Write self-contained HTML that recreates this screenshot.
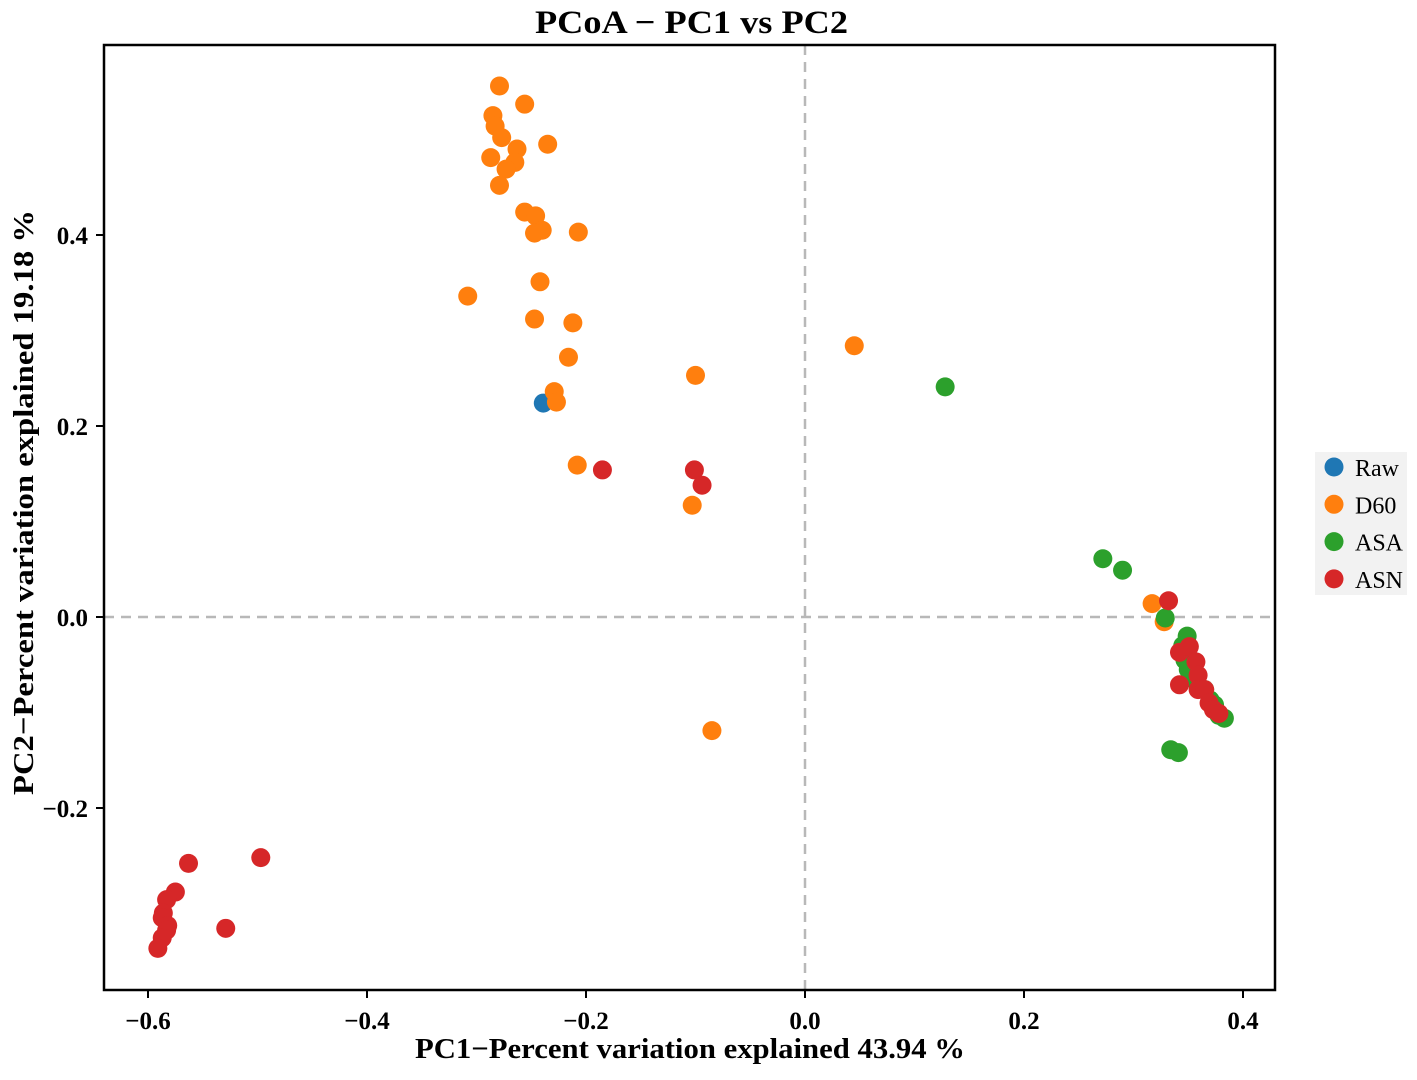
<!DOCTYPE html>
<html><head><meta charset="utf-8"><style>
body{margin:0;background:#fff;}
svg text{font-family:"Liberation Serif",serif;font-weight:bold;}
</style></head><body>
<svg id="chart" width="1417" height="1075" xmlns="http://www.w3.org/2000/svg">
<text x="535" y="33" font-size="33" textLength="313" lengthAdjust="spacingAndGlyphs">PCoA − PC1 vs PC2</text>
<g id="grid"></g>
<g id="pts"></g>
<rect x="104" y="45" width="1171" height="945" fill="none" stroke="#000" stroke-width="2.5"/>
<g id="axes"></g>
<text x="415" y="1058" font-size="29" textLength="550" lengthAdjust="spacingAndGlyphs">PC1−Percent variation explained 43.94 %</text>
<text transform="translate(33,795) rotate(-90)" font-size="29" textLength="585" lengthAdjust="spacingAndGlyphs">PC2−Percent variation explained 19.18 %</text>
<g id="legend">
<rect x="1315" y="452" width="92" height="143" fill="#f2f2f2"/>
</g>
</svg>
<script>
const xTicks=[-0.6,-0.4,-0.2,0.0,0.2,0.4];
const xTickLabels=["−0.6","−0.4","−0.2","0.0","0.2","0.4"];
const yTicks=[-0.2,0.0,0.2,0.4];
const yTickLabels=["−0.2","0.0","0.2","0.4"];
const groups=["Raw","D60","ASA","ASN"];
const colors=["#1f77b4","#ff7f0e","#2ca02c","#d62728"];
const rawX=[-0.239];
const rawY=[0.224];
const d60X=[-0.279,-0.256,-0.285,-0.283,-0.277,-0.235,-0.263,-0.287,-0.265,-0.273,-0.279,-0.256,-0.246,-0.240,-0.247,-0.207,-0.242,-0.308,-0.247,-0.212,-0.216,-0.229,-0.227,-0.100,0.045,-0.208,-0.103,-0.085,0.317,0.328];
const d60Y=[0.556,0.537,0.525,0.514,0.502,0.495,0.490,0.481,0.476,0.469,0.452,0.424,0.420,0.405,0.402,0.403,0.351,0.336,0.312,0.308,0.272,0.236,0.225,0.253,0.284,0.159,0.117,-0.119,0.014,-0.005];
const asaX=[0.128,0.272,0.290,0.329,0.349,0.345,0.347,0.350,0.356,0.365,0.370,0.374,0.378,0.383,0.334,0.341];
const asaY=[0.241,0.061,0.049,-0.001,-0.020,-0.030,-0.045,-0.055,-0.066,-0.076,-0.087,-0.092,-0.103,-0.106,-0.139,-0.142];
const asnX=[0.332,0.342,0.351,0.357,0.359,0.342,0.359,0.365,0.369,0.373,0.378,-0.185,-0.101,-0.094,-0.563,-0.497,-0.529,-0.575,-0.583,-0.586,-0.587,-0.582,-0.583,-0.587,-0.591];
const asnY=[0.017,-0.037,-0.031,-0.047,-0.061,-0.071,-0.076,-0.076,-0.090,-0.097,-0.101,0.154,0.154,0.138,-0.258,-0.252,-0.326,-0.288,-0.296,-0.310,-0.315,-0.323,-0.328,-0.336,-0.347];
const NS="http://www.w3.org/2000/svg";
const sx=v=>805+v*1095, sy=v=>617-v*955;
function mk(tag,attrs,parent){const e=document.createElementNS(NS,tag);for(const k in attrs)e.setAttribute(k,attrs[k]);parent.appendChild(e);return e;}
const grid=document.getElementById('grid'),pts=document.getElementById('pts'),axes=document.getElementById('axes'),leg=document.getElementById('legend');
let l=mk('line',{x1:sx(0),x2:sx(0),y1:45,y2:990,stroke:'#b8b8b8','stroke-width':2.5,'stroke-dasharray':'10,7'},grid);

l=mk('line',{x1:104,x2:1275,y1:sy(0),y2:sy(0),stroke:'#b8b8b8','stroke-width':2.5,'stroke-dasharray':'10,7'},grid);

xTicks.forEach((v,i)=>{
 const t=mk('line',{x1:sx(v),x2:sx(v),y1:990,y2:998,stroke:'#000','stroke-width':2},axes);
 
 const tx=mk('text',{x:sx(v),y:1029,'font-size':25,'text-anchor':'middle'},axes);tx.textContent=xTickLabels[i];
 
});
yTicks.forEach((v,i)=>{
 const t=mk('line',{x1:96,x2:104,y1:sy(v),y2:sy(v),stroke:'#000','stroke-width':2},axes);
 
 const tx=mk('text',{x:88,y:sy(v)+9,'font-size':25,'text-anchor':'end'},axes);tx.textContent=yTickLabels[i];
 
});
const series=[[rawX,rawY],[d60X,d60Y],[asaX,asaY],[asnX,asnY]];
series.forEach((s,g)=>{
 s[0].forEach((x,i)=>{
  const c=mk('circle',{cx:sx(x),cy:sy(s[1][i]),r:9.5,fill:colors[g]},pts);
  
  
 });
});
groups.forEach((g,i)=>{
 const y=467+i*37.3;
 const c=mk('circle',{cx:1334,cy:y,r:9.5,fill:colors[i]},leg);
 
 
 const t=mk('text',{x:1355,y:y+9,'font-size':24},leg);t.textContent=g;
 t.style.fontWeight='normal';
 
 
});
</script>
</body></html>
